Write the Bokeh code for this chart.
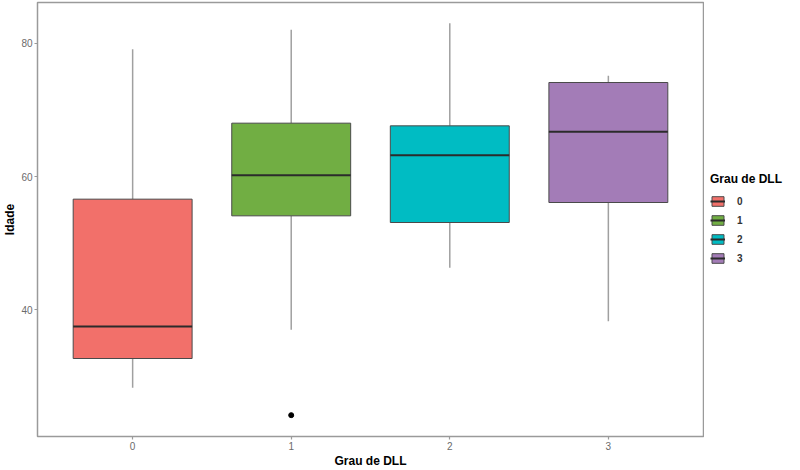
from bokeh.plotting import figure
from bokeh.layouts import row
from bokeh.models import FactorRange, Range1d, Legend, LegendItem, ColumnDataSource
from bokeh.transform import dodge
from bokeh.embed import file_html
from bokeh.resources import INLINE

categories = ["0", "1", "2", "3"]
q_min = [28.3, 37.0, 46.3, 38.3]
q1 = [32.7, 54.1, 53.1, 56.1]
median = [37.5, 60.2, 63.2, 66.7]
q3 = [56.6, 68.0, 67.6, 74.1]
q_max = [79.1, 82.0, 83.0, 75.1]
outlier_cat = ["1"]
outlier_val = [24.2]
colors = ["#F2706A", "#71AE43", "#00BCC3", "#A37CB7"]

FONT = "Liberation Sans"
BOX_W = 0.75
FW, FH = 666, 434
BOX_LINE = "#4a4a4a"
MED_LINE = "#2b2b2b"

p = figure(frame_width=FW, frame_height=FH,
           x_range=FactorRange(factors=categories, range_padding=0.05),
           y_range=Range1d(21.0, 86.1),
           output_backend="svg", toolbar_location=None,
           min_border_left=0, min_border_top=2, min_border_bottom=0, min_border_right=1,
           x_axis_label="Grau de DLL", y_axis_label="Idade")

p.xgrid.grid_line_color = None
p.ygrid.grid_line_color = None
p.outline_line_color = "#9a9a9a"
p.outline_line_width = 1.5
p.background_fill_color = "white"
p.border_fill_color = "white"

for ax in (p.xaxis[0], p.yaxis[0]):
    ax.axis_line_color = None
    ax.major_tick_line_color = "#9a9a9a"
    ax.major_tick_line_width = 1.2
    ax.major_tick_out = 3
    ax.major_tick_in = 0
    ax.minor_tick_line_color = None
    ax.major_label_text_font = FONT
    ax.major_label_text_font_size = "10px"
    ax.major_label_text_color = "#6b6b6b"
    ax.major_label_standoff = 2
    ax.axis_label_text_font = FONT
    ax.axis_label_text_font_size = "12px"
    ax.axis_label_text_font_style = "bold"
    ax.axis_label_text_color = "black"
    ax.axis_label_standoff = 1

p.yaxis[0].ticker = [40, 60, 80]

# whiskers
wsrc = ColumnDataSource(dict(x=categories, lo=q_min, q1=q1, q3=q3, hi=q_max))
p.segment(x0="x", y0="q3", x1="x", y1="hi", source=wsrc, line_color="#a0a0a0", line_width=1.5)
p.segment(x0="x", y0="q1", x1="x", y1="lo", source=wsrc, line_color="#a0a0a0", line_width=1.5)

for i, c in enumerate(categories):
    src = ColumnDataSource(dict(x=[c], q1=[q1[i]], q3=[q3[i]], med=[median[i]]))
    p.vbar(x="x", bottom="q1", top="q3", width=BOX_W, source=src,
           fill_color=colors[i], line_color=BOX_LINE, line_width=1)
    p.segment(x0=dodge("x", -BOX_W / 2, range=p.x_range), y0="med",
              x1=dodge("x", BOX_W / 2, range=p.x_range), y1="med",
              source=src, line_color=MED_LINE, line_width=2)

p.scatter(x=outlier_cat, y=outlier_val, size=5, color="black")

# legend panel as a separate small figure (its glyphs sit outside its visible range)
LH = 468
lf = figure(width=84, height=LH, x_range=Range1d(0, 1), y_range=Range1d(0, 1),
            output_backend="svg", toolbar_location=None, min_border=0)
lf.axis.visible = False
lf.grid.grid_line_color = None
lf.outline_line_color = None
items = []
for i, c in enumerate(categories):
    b = lf.vbar(x=[5], bottom=[5], top=[6], width=0.5, fill_color=colors[i],
                line_color=BOX_LINE, line_width=1)
    m = lf.segment(x0=[5], y0=[5], x1=[6], y1=[5], line_color=MED_LINE, line_width=2)
    items.append(LegendItem(label=c, renderers=[b, m]))

legend = Legend(items=items, title="Grau de DLL", location=(6, LH - 298),
                border_line_color=None, background_fill_alpha=0,
                glyph_width=15, glyph_height=12, label_standoff=12,
                spacing=7, padding=2, margin=0,
                title_text_font=FONT, title_text_font_size="12px",
                title_text_font_style="bold", title_text_color="black",
                title_standoff=9,
                label_text_font=FONT, label_text_font_size="10px",
                label_text_font_style="bold", label_text_color="#333333")
lf.add_layout(legend, "center")

layout = row(p, lf)
open("out.html", "w").write(file_html(layout, INLINE))
